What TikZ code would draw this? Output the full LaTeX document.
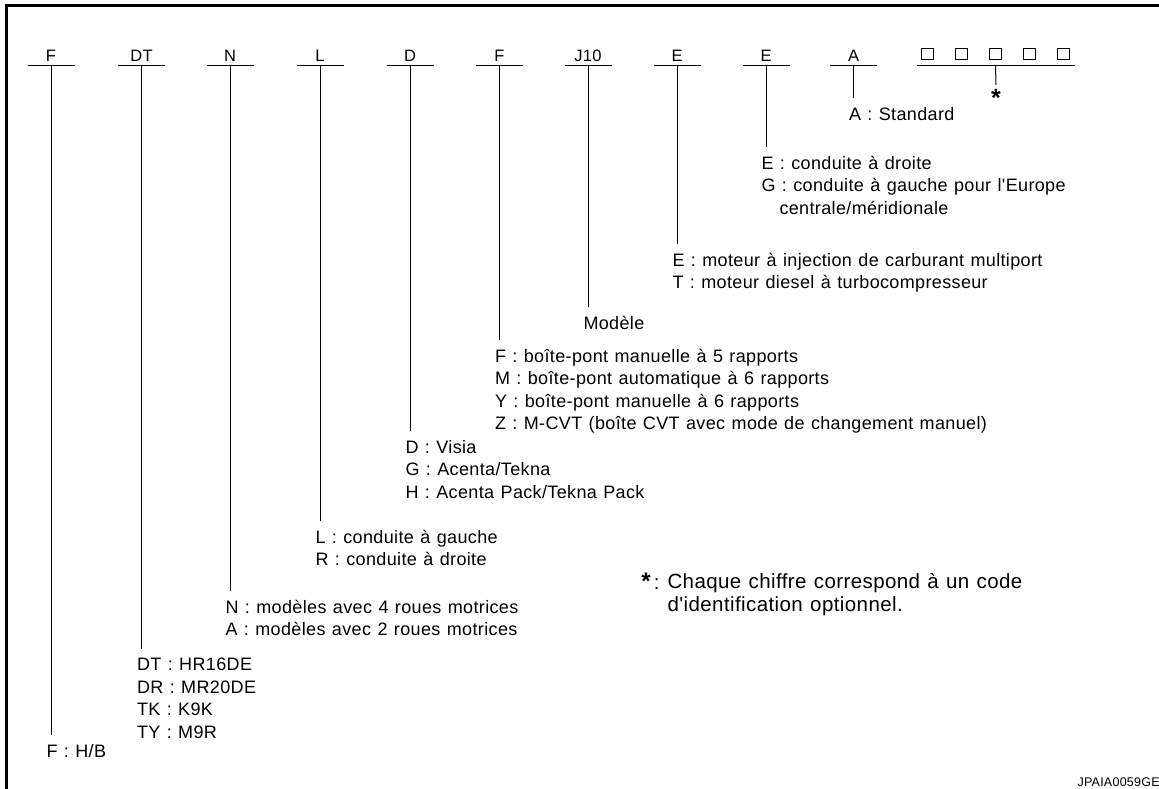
\documentclass[tikz,border=0pt]{standalone}
\usepackage{fontspec}
\newfontfamily\bodyfont[LetterSpace=2, WordSpace=1.2]{Liberation Sans}
\usetikzlibrary{positioning}

\tikzset{
  code/.style={inner xsep=0pt, inner ysep=3.5pt, text depth=0pt, minimum width=46pt, anchor=south, font=\bodyfont\fontsize{16.5}{19}\selectfont},
  desc/.style={anchor=north west, inner xsep=0pt, inner ysep=8.5pt, align=left, font=\bodyfont\fontsize{18}{22.5}\selectfont},
  digit/.style={draw, line width=1.2pt, minimum size=11.5pt, inner sep=0pt},
}

\begin{document}
\begin{tikzpicture}[x=1pt, y=-1pt, line width=1pt]
\useasboundingbox (0,0) rectangle (1159,789);
% frame
\draw[line width=3pt] (6,789) -- (6,6) -- (1159,6);

% code letters
\node[code] (cF) at (51,66) {F};
\node[code] (cDT) at (141.5,66) {DT};
\node[code] (cN) at (230,66) {N};
\node[code] (cL) at (320,66) {L};
\node[code] (cD) at (410,66) {D};
\node[code] (cF2) at (499.5,66) {F};
\node[code] (cJ) at (588,66) {J10};
\node[code] (cE1) at (677,66) {E};
\node[code] (cE2) at (766,66) {E};
\node[code] (cA) at (853.5,66) {A};
\node[code, minimum width=157pt, minimum height=20pt] (cX) at (995.5,66) {};
\foreach \i in {1,...,5}
  \node[digit] (b\i) at ({927.5+34*(\i-1)},54) {};

% meanings
\node[desc] (dF) at (46,735) {F : H/B};
\node[desc] (dDT) at (136.5,649) {DT : HR16DE\\DR : MR20DE\\TK : K9K\\TY : M9R};
\node[desc] (dN) at (225,591) {N : modèles avec 4 roues motrices\\A : modèles avec 2 roues motrices};
\node[desc] (dL) at (315,521) {L : conduite à gauche\\R : conduite à droite};
\node[desc] (dD) at (405,431) {D : Visia\\G : Acenta/Tekna\\H : Acenta Pack/Tekna Pack};
\node[desc] (dF2) at (494.5,340) {F : boîte-pont manuelle à 5 rapports\\M : boîte-pont automatique à 6 rapports\\Y : boîte-pont manuelle à 6 rapports\\Z : M-CVT (boîte CVT avec mode de changement manuel)};
\node[desc] (dJ) at (583,307) {Modèle};
\node[desc] (dE1) at (672,244) {E : moteur à injection de carburant multiport\\T : moteur diesel à turbocompresseur};
\node[desc] (dE2) at (761,147) {E : conduite à droite\\G : conduite à gauche pour l'Europe\\\hspace*{18pt}centrale/méridionale};
\node[desc] (dA) at (848.5,98) {A : Standard};
\node[inner xsep=0pt, inner ysep=4pt, font=\bodyfont\bfseries\fontsize{25}{25}\selectfont] (star) at (996,98) {*};

% note
\node[desc, font=\bodyfont\fontsize{20.5}{23}\selectfont] (note) at (667,564) {Chaque chiffre correspond à un code\\d'identification optionnel.};
\node[desc, anchor=north east, font=\bodyfont\fontsize{20.5}{23}\selectfont] (noteKey) at (note.north west) {{\bfseries\fontsize{24}{23}\selectfont *}\hspace{3pt}:\hspace{7pt}};
\node[anchor=base west, inner sep=0pt, font=\bodyfont\fontsize{12.5}{14}\selectfont] (ref) at (1077,786) {JPAIA0059GE};

% lines
\foreach \n in {F,DT,N,L,D,F2,J,E1,E2,A,X}
  \draw (c\n.south west) -- (c\n.south east);
\foreach \n in {F,DT,N,L,D,F2,J,E1,E2,A}
  \draw (c\n.south) -- (d\n.north -| c\n.south);
\draw (cX.south) -- (star.north);
\end{tikzpicture}
\end{document}
